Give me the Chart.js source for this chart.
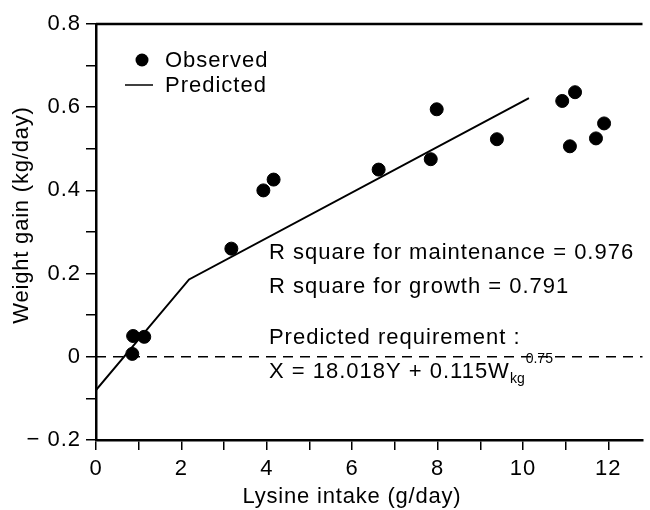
<!DOCTYPE html>
<html>
<head>
<meta charset="utf-8">
<script src="https://cdn.jsdelivr.net/npm/chart.js@4.4.0/dist/chart.umd.min.js"></script>
<style>
  html, body { margin: 0; padding: 0; background: #fff; }
  #wrap { width: 650px; height: 510px; }
</style>
</head>
<body>
<div id="wrap"><canvas id="myChart" width="650" height="510"></canvas></div>
<script>
// observed points (lysine intake g/day, weight gain kg/day)
var obsX = [0.85, 0.87, 1.13, 3.17, 3.92, 4.16, 6.62, 7.84, 7.98, 9.39, 10.92, 11.22, 11.10, 11.71, 11.90]
var obsY = [0.007, 0.05, 0.048, 0.26, 0.40, 0.426, 0.45, 0.475, 0.595, 0.523, 0.615, 0.636, 0.506, 0.525, 0.561]

// predicted (broken line)
var predX = [0, 2.18, 10.14]
var predY = [-0.08, 0.186, 0.622]

var xTicks = [0, 2, 4, 6, 8, 10, 12]
var yTicks = [-0.2, 0, 0.2, 0.4, 0.6, 0.8]

var notes = [
    'R square for maintenance = 0.976',
    'R square for growth = 0.791',
    'Predicted requirement :'
]
var FONT = "'Liberation Sans', Arial, Helvetica, sans-serif"

var observed = []
for (var i = 0; i < obsX.length; i++) {
    observed.push({x: obsX[i], y: obsY[i]})
}
var predicted = []
for (var i = 0; i < predX.length; i++) {
    predicted.push({x: predX[i], y: predY[i]})
}

Chart.defaults.font.family = FONT
Chart.defaults.font.size = 22
Chart.defaults.color = '#000'

// frame, legend, axis titles and text notes
var extras = {
    id: 'extras',
    beforeDraw: function(chart) {
        // the scanned lettering is set a little wider than Arial
        chart.ctx.letterSpacing = '1px'
    },
    afterDraw: function(chart) {
        var c = chart.ctx
        var a = chart.chartArea
        var xs = chart.scales.x
        var ys = chart.scales.y
        c.save()
        // top border
        c.strokeStyle = '#000'
        c.lineWidth = 2.5
        c.beginPath()
        c.moveTo(a.left, a.top)
        c.lineTo(a.right, a.top)
        c.stroke()

        c.fillStyle = '#000'
        c.font = '22px ' + FONT
        c.letterSpacing = '1px'
        c.textBaseline = 'middle'
        // legend
        c.beginPath()
        c.arc(a.left + 46, a.top + 36, 6.5, 0, Math.PI * 2)
        c.fill()
        c.fillText('Observed', a.left + 69, a.top + 37)
        c.lineWidth = 1.5
        c.beginPath()
        c.moveTo(a.left + 29, a.top + 61)
        c.lineTo(a.left + 57, a.top + 61)
        c.stroke()
        c.fillText('Predicted', a.left + 69, a.top + 62)

        // notes
        var tx = xs.getPixelForValue(4.05)
        c.fillText(notes[0], tx, ys.getPixelForValue(0.25))
        c.fillText(notes[1], tx, ys.getPixelForValue(0.168))
        c.fillText(notes[2], tx, ys.getPixelForValue(0.046))
        // formula with subscript / superscript
        var fy = ys.getPixelForValue(-0.036)
        var s1 = 'X = 18.018Y + 0.115W'
        c.fillText(s1, tx, fy)
        var px = tx + c.measureText(s1).width
        c.font = '14px ' + FONT
        c.letterSpacing = '0px'
        c.fillText('kg', px, fy + 7)
        px += c.measureText('kg').width + 1
        c.fillText('0.75', px, fy - 13)

        // axis titles
        c.font = '22px ' + FONT
        c.letterSpacing = '0.8px'
        c.textAlign = 'center'
        c.fillText('Lysine intake (g/day)', 352, 497)
        c.translate(22, 215)
        c.rotate(-Math.PI / 2)
        c.fillText('Weight gain (kg/day)', 0, 0)
        c.restore()
    }
}

function chartdrawer(ctx)
{
    var myChart = new Chart(ctx, {
        type: 'scatter',
        data: {
            datasets: [{
                label: 'Observed',
                data: observed,
                backgroundColor: '#000',
                borderColor: '#000',
                pointRadius: 6.5,
                pointHoverRadius: 6.5
            }, {
                label: 'Predicted',
                data: predicted,
                showLine: true,
                borderColor: '#000',
                borderWidth: 2,
                pointRadius: 0
            }, {
                label: 'zero',
                data: [{x: 0, y: 0}, {x: 13, y: 0}],
                showLine: true,
                borderColor: '#000',
                borderWidth: 1.5,
                borderDash: [10, 7],
                pointRadius: 0
            }]
        },
        options: {
            responsive: false,
            animation: false,
            layout: { padding: { top: 24, right: -1, left: 0, bottom: 0 } },
            plugins: {
                legend: { display: false },
                tooltip: { enabled: false }
            },
            scales: {
                x: {
                    type: 'linear',
                    min: 0,
                    max: 12.8,
                    afterFit: function(s) { s.height = 70 },
                    afterBuildTicks: function(s) {
                        var t = []
                        for (var v = 0; v <= 12; v++) t.push({value: v})
                        s.ticks = t
                    },
                    ticks: {
                        padding: 6,
                        maxRotation: 0,
                        autoSkip: false,
                        callback: function(v) { return xTicks.indexOf(v) >= 0 ? String(v) : '' }
                    },
                    grid: { drawOnChartArea: false, tickLength: 10, color: '#000', lineWidth: 1.5 },
                    border: { color: '#000', width: 2.5 }
                },
                y: {
                    type: 'linear',
                    min: -0.2,
                    max: 0.8,
                    afterFit: function(s) { s.width = 96 },
                    afterBuildTicks: function(s) {
                        var t = []
                        for (var k = -2; k <= 8; k++) t.push({value: k / 10})
                        s.ticks = t
                    },
                    ticks: {
                        padding: 5,
                        autoSkip: false,
                        callback: function(v) {
                            var k = Math.round(v * 10)
                            if (k % 2 !== 0) return ''
                            if (k === 0) return '0'
                            if (k < 0) return '\u2212 ' + Math.abs(v).toFixed(1)
                            return v.toFixed(1)
                        }
                    },
                    grid: { drawOnChartArea: false, tickLength: 10, color: '#000', lineWidth: 1.5 },
                    border: { color: '#000', width: 2.5 }
                }
            }
        },
        plugins: [extras]
    });
}

var ctx = document.getElementById('myChart').getContext('2d');
chartdrawer(ctx);
</script>
</body>
</html>
